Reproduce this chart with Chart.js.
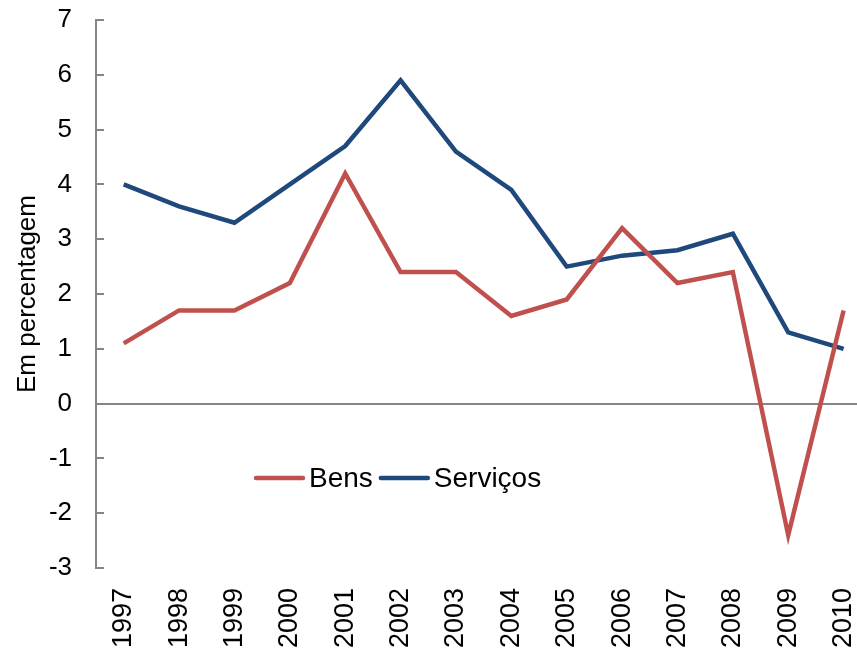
<!DOCTYPE html>
<html>
<head>
<meta charset="utf-8">
<script src="https://cdn.jsdelivr.net/npm/chart.js@4/dist/chart.umd.min.js"></script>
<style>
	html, body { margin: 0; padding: 0; background: #fff; overflow: hidden; }
	#wrap { width: 896px; height: 650px; position: relative; }
</style>
</head>
<body>
<div id="wrap"><canvas id="chart"></canvas></div>
<script>
var years = ['1997', '1998', '1999', '2000', '2001', '2002', '2003', '2004', '2005', '2006', '2007', '2008', '2009', '2010'];
var bens = [1.1, 1.7, 1.7, 2.2, 4.2, 2.4, 2.4, 1.6, 1.9, 3.2, 2.2, 2.4, -2.4, 1.7];
var servicos = [4.0, 3.6, 3.3, 4.0, 4.7, 5.9, 4.6, 3.9, 2.5, 2.7, 2.8, 3.1, 1.3, 1.0];
var yTicks = [-3, -2, -1, 0, 1, 2, 3, 4, 5, 6, 7];

var red = '#C0504D';
var blue = '#1F497D';
var axisGrey = '#868686';
var fontName = '"Liberation Sans", Arial, sans-serif';

// small tick marks pointing into the plot, like the old spreadsheet charts
var innerTicks = {
	id: 'innerTicks',
	afterDraw: function (chart) {
		var c = chart.ctx;
		var y = chart.scales.y;
		var left = chart.chartArea.left;
		c.save();
		c.strokeStyle = axisGrey;
		c.lineWidth = 2;
		for (let v of yTicks) {
			let py = Math.round(y.getPixelForValue(v));
			c.beginPath();
			c.moveTo(left, py);
			c.lineTo(left + 8, py);
			c.stroke();
		}
		c.restore();
	}
};

// legend sits inside the plot, below the lines
var innerLegend = {
	id: 'innerLegend',
	afterDraw: function (chart) {
		var c = chart.ctx;
		var area = chart.chartArea;
		var x = area.left + 160;
		var y = area.top + 458;
		c.save();
		c.font = '28px ' + fontName;
		c.textBaseline = 'middle';
		c.lineCap = 'round';
		c.lineWidth = 4.5;
		for (let ds of chart.data.datasets) {
			c.strokeStyle = ds.borderColor;
			c.beginPath();
			c.moveTo(x, y);
			c.lineTo(x + 47, y);
			c.stroke();
			x += 53;
			c.fillStyle = '#000';
			c.fillText(ds.label, x, y + 1);
			x += c.measureText(ds.label).width + 8;
		}
		c.restore();
	}
};

var ctx = document.getElementById('chart').getContext('2d');
var lineChart = new Chart(ctx, {
	type: 'line',
	data: {
		labels: years,
		datasets: [{
			label: 'Bens',
			data: bens,
			borderColor: red,
			backgroundColor: red,
			borderWidth: 4.5,
			pointRadius: 0,
			tension: 0
		}, {
			label: 'Serviços',
			data: servicos,
			borderColor: blue,
			backgroundColor: blue,
			borderWidth: 4.5,
			pointRadius: 0,
			tension: 0
		}]
	},
	options: {
		responsive: true,
		maintainAspectRatio: false,
		animation: false,
		layout: { padding: { top: 20, right: 0, left: 0, bottom: 0 } },
		plugins: {
			legend: { display: false },
			tooltip: { enabled: false }
		},
		scales: {
			x: {
				offset: true,
				grid: { display: false, drawTicks: false },
				border: { display: false },
				ticks: {
					autoSkip: false,
					maxRotation: 90,
					minRotation: 90,
					padding: 20,
					color: '#000',
					font: { family: fontName, size: 27 }
				},
				afterFit: function (scale) { scale.height = 82; }
			},
			y: {
				min: -3,
				max: 7,
				grid: {
					drawTicks: false,
					lineWidth: 2,
					color: function (c) { return c.tick && c.tick.value === 0 ? axisGrey : 'rgba(0,0,0,0)'; }
				},
				border: { display: true, color: axisGrey, width: 2 },
				ticks: {
					stepSize: 1,
					padding: 24,
					color: '#000',
					font: { family: fontName, size: 26 }
				},
				title: {
					display: true,
					text: 'Em percentagem',
					color: '#000',
					font: { family: fontName, size: 26 },
					padding: { top: 12, bottom: 0 }
				},
				afterFit: function (scale) {
					scale.width = 96;
					scale.paddingTop = 0;
					scale.paddingBottom = 0;
				}
			}
		}
	},
	plugins: [innerTicks, innerLegend]
});
</script>
</body>
</html>
